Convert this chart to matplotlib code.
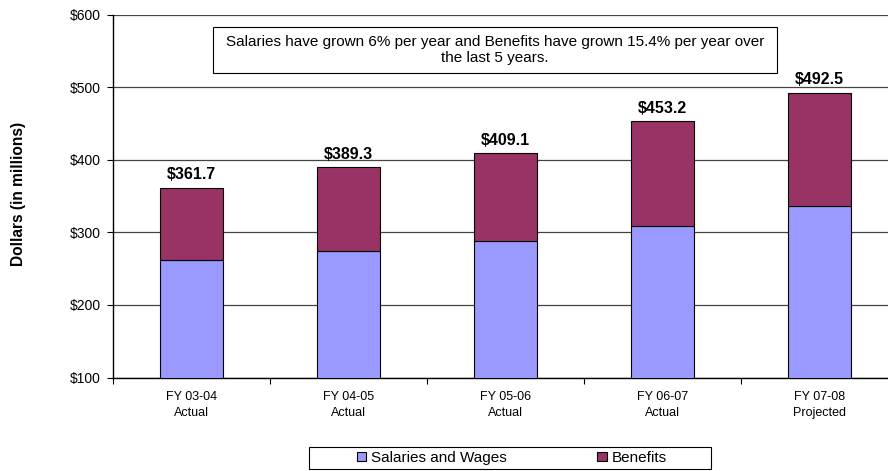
import numpy as np
import matplotlib.pyplot as plt
from matplotlib.patches import Rectangle

plt.rcParams['font.family'] = ['Liberation Sans', 'DejaVu Sans']

# Data (millions of dollars)
years = ["FY 03-04\nActual", "FY 04-05\nActual", "FY 05-06\nActual",
         "FY 06-07\nActual", "FY 07-08\nProjected"]
totals = [361.7, 389.3, 409.1, 453.2, 492.5]
salaries = [262.5, 274.0, 288.0, 309.0, 336.5]
benefits = [t - s for t, s in zip(totals, salaries)]
yticks = [100, 200, 300, 400, 500, 600]

note = ("Salaries have grown 6% per year and Benefits have grown 15.4% per year over\n"
        "the last 5 years.")

fig = plt.figure(figsize=(8.88, 4.71), dpi=100)
ax = fig.add_axes([113/888, 0.1985, 785/888, 0.7707])

x = np.arange(len(years))
width = 0.4
ax.bar(x, salaries, width, bottom=0, color='#9999FF', edgecolor='black',
       linewidth=0.8, label='Salaries and Wages', zorder=3)
ax.bar(x, benefits, width, bottom=salaries, color='#993366', edgecolor='black',
       linewidth=0.8, label='Benefits', zorder=3)

for xi, t in zip(x, totals):
    ax.annotate(f"${t:.1f}", (xi, t), xytext=(0, 4), textcoords='offset points',
                ha='center', va='bottom', fontsize=11.5, fontweight='bold')

ax.set_ylim(100, 600)
ax.set_xlim(-0.5, len(years) - 0.5)
ax.set_yticks(yticks)
ax.set_yticklabels([f"${v}" for v in yticks], fontsize=10)
ax.yaxis.grid(True, color='#444444', linewidth=0.9, zorder=0)
ax.set_axisbelow(True)

ax.set_xticks(x)
ax.set_xticklabels(years, fontsize=9, linespacing=1.45)
ax.tick_params(axis='x', which='major', length=0, pad=10)
ax.set_xticks(np.arange(len(years) + 1) - 0.5, minor=True)
ax.tick_params(axis='x', which='minor', length=4, width=0.8, direction='out')
ax.tick_params(axis='y', length=4, width=0.8, direction='out', pad=5)

for side in ['top', 'right']:
    ax.spines[side].set_visible(False)
for side in ['left', 'bottom']:
    ax.spines[side].set_linewidth(1.0)
    ax.spines[side].set_color('black')

fig.text(18/888, 1 - 194/471, "Dollars (in millions)", rotation=90,
         ha='center', va='center', fontsize=11.2, fontweight='bold')

# note box
fig.patches.append(Rectangle((213/888, 1 - 73/471), 564/888, 46/471,
                             transform=fig.transFigure, facecolor='white',
                             edgecolor='black', linewidth=0.8, zorder=5))
fig.text(495/888, 1 - 50/471, note, ha='center', va='center', fontsize=11,
         linespacing=1.25, zorder=6)

# legend with its own frame
fig.patches.append(Rectangle((309/888, 1 - 469/471), 402/888, 22/471,
                             transform=fig.transFigure, facecolor='white',
                             edgecolor='black', linewidth=0.8, zorder=1))
leg = fig.legend(loc='center', bbox_to_anchor=(512/888, 1 - 458/471), ncol=2,
                 fontsize=11, frameon=False,
                 handlelength=0.6, handleheight=0.6, handletextpad=0.35,
                 columnspacing=5.9, borderpad=0.15)

fig.savefig("out.png", dpi=100)
